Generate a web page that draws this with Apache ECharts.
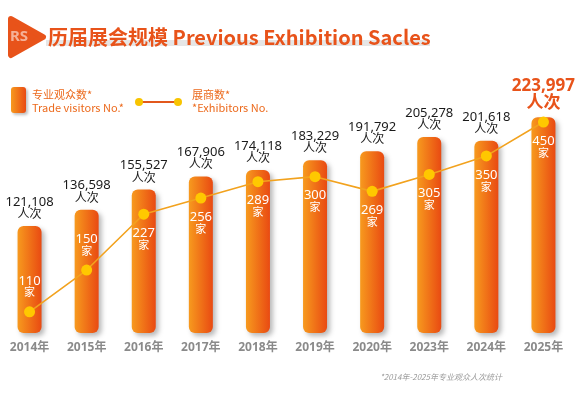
<!DOCTYPE html>
<html>
<head>
<meta charset="utf-8">
<script src="https://cdn.jsdelivr.net/npm/echarts@6/dist/echarts.min.js"></script>
<style>
html,body{margin:0;padding:0;background:#fff;}
#c{width:587px;height:395px;}
</style>
</head>
<body>
<div id="c"></div>
<script>
const categories = ['2014年','2015年','2016年','2017年','2018年','2019年','2020年','2023年','2024年','2025年'];
const visitors = [121108,136598,155527,167906,174118,183229,191792,205278,201618,223997];
const exhibitors = [110,150,227,256,289,300,269,305,350,450];
const titleText = '历届展会规模 Previous Exhibition Sacles';
const legendVisitors = ['专业观众数*','Trade visitors No.*'];
const legendExhibitors = ['展商数*','*Exhibitors No.'];
const footnote = '*2014年-2025年专业观众人次统计';

const FONT = '"Noto Sans","Noto Sans CJK SC",sans-serif';
const CJK = '"Noto Sans CJK SC","Noto Sans",sans-serif';
const ORANGE = '#e8531a';
const chart = echarts.init(document.getElementById('c'));

function fmt(n){return n.toLocaleString('en-US');}
const last = visitors.length - 1;

const barData = visitors.map((v,i)=>({
  value: v,
  label: {
    formatter: i === last ? '{h|' + fmt(v) + '}\n{hu|人次}' : '{n|' + fmt(v) + '}\n{u|人次}'
  }
}));
const lineData = exhibitors.map((v,i)=>({
  value: v,
  label: { position: i < 2 ? 'top' : 'bottom' }
}));

const barGrad = new echarts.graphic.LinearGradient(0,0,1,0,[
  {offset:0,color:'#f79a1e'},{offset:1,color:'#e94a12'}
]);

chart.setOption({
  animation:false,
  textStyle:{fontFamily:FONT},
  grid:{left:1,right:15,top:96,bottom:62,containLabel:false,outerBoundsMode:'none'},
  xAxis:{
    type:'category',data:categories,
    axisLine:{show:false},axisTick:{show:false},
    axisLabel:{color:'#8a8a8a',fontSize:12,fontWeight:'bold',margin:9,fontFamily:FONT,interval:0}
  },
  yAxis:[
    {type:'value',min:20000,max:244000,show:false,splitLine:{show:false}},
    {type:'log',logBase:10,min:94,max:546,show:false,splitLine:{show:false}}
  ],
  series:[
    {
      type:'bar',data:barData,barWidth:24,yAxisIndex:0,
      itemStyle:{color:barGrad,borderRadius:6,shadowColor:'rgba(0,0,0,0.28)',shadowBlur:5,shadowOffsetX:3,shadowOffsetY:3},
      label:{
        show:true,position:'top',distance:5,
        rich:{
          n:{fontSize:13,color:'#1a1a1a',lineHeight:12,fontFamily:FONT,align:'center'},
          u:{fontSize:12,color:'#1a1a1a',lineHeight:13,fontFamily:FONT,align:'center'},
          h:{fontSize:17,color:ORANGE,fontWeight:'bold',lineHeight:17,fontFamily:FONT,align:'center'},
          hu:{fontSize:17,color:ORANGE,fontWeight:'bold',lineHeight:18,fontFamily:FONT,align:'center'}
        }
      },
      z:2
    },
    {
      type:'line',data:lineData,yAxisIndex:1,
      symbol:'circle',symbolSize:11,
      lineStyle:{color:'#f2a21e',width:1.6},
      itemStyle:{color:'#ffc800'},
      label:{
        show:true,distance:7,
        formatter:p=>'{n|'+p.value+'}\n{u|家}',
        rich:{
          n:{fontSize:13,color:'#fff',lineHeight:13,fontFamily:FONT,align:'center'},
          u:{fontSize:11,color:'#fff',lineHeight:12,fontFamily:FONT,align:'center'}
        }
      },
      z:5
    }
  ],
  graphic:[
    {type:'rect',shape:{x:46,y:40,width:384,height:6},style:{fill:'#e6e6e6'},z:1},
    {type:'polygon',shape:{points:[[11,19],[43,37],[11,55]]},style:{fill:ORANGE,stroke:ORANGE,lineWidth:6,lineJoin:'round'},z:2},
    {type:'text',left:10,top:29,style:{text:'RS',fontSize:15,fontWeight:'bold',fill:'rgba(255,255,255,0.55)',fontFamily:FONT},z:3},
    {type:'text',left:48,top:27,style:{text:titleText,fontSize:20,fontWeight:'bold',fill:ORANGE,fontFamily:CJK},z:3},
    {type:'rect',shape:{x:11,y:87,width:15,height:26,r:3},style:{fill:barGrad,shadowColor:'rgba(0,0,0,0.25)',shadowBlur:3,shadowOffsetX:2,shadowOffsetY:2},z:2},
    {type:'text',left:32,top:88,style:{text:legendVisitors[0]+'\n'+legendVisitors[1],fontSize:11,lineHeight:13,fill:'#ec6a1d',fontFamily:CJK},z:3},
    {type:'line',shape:{x1:139,y1:102,x2:178,y2:102},style:{stroke:'#e2581c',lineWidth:2},z:2},
    {type:'circle',shape:{cx:139,cy:102,r:4},style:{fill:'#f8c400'},z:3},
    {type:'circle',shape:{cx:178,cy:102,r:4},style:{fill:'#f8c400'},z:3},
    {type:'text',left:192,top:88,style:{text:legendExhibitors[0]+'\n'+legendExhibitors[1],fontSize:11,lineHeight:13,fill:'#ec6a1d',fontFamily:CJK},z:3},
    {type:'text',right:85,top:373,style:{text:footnote,fontSize:8,fontStyle:'italic',fill:'#9a9a9a',fontFamily:CJK},z:3}
  ]
});
</script>
</body>
</html>
